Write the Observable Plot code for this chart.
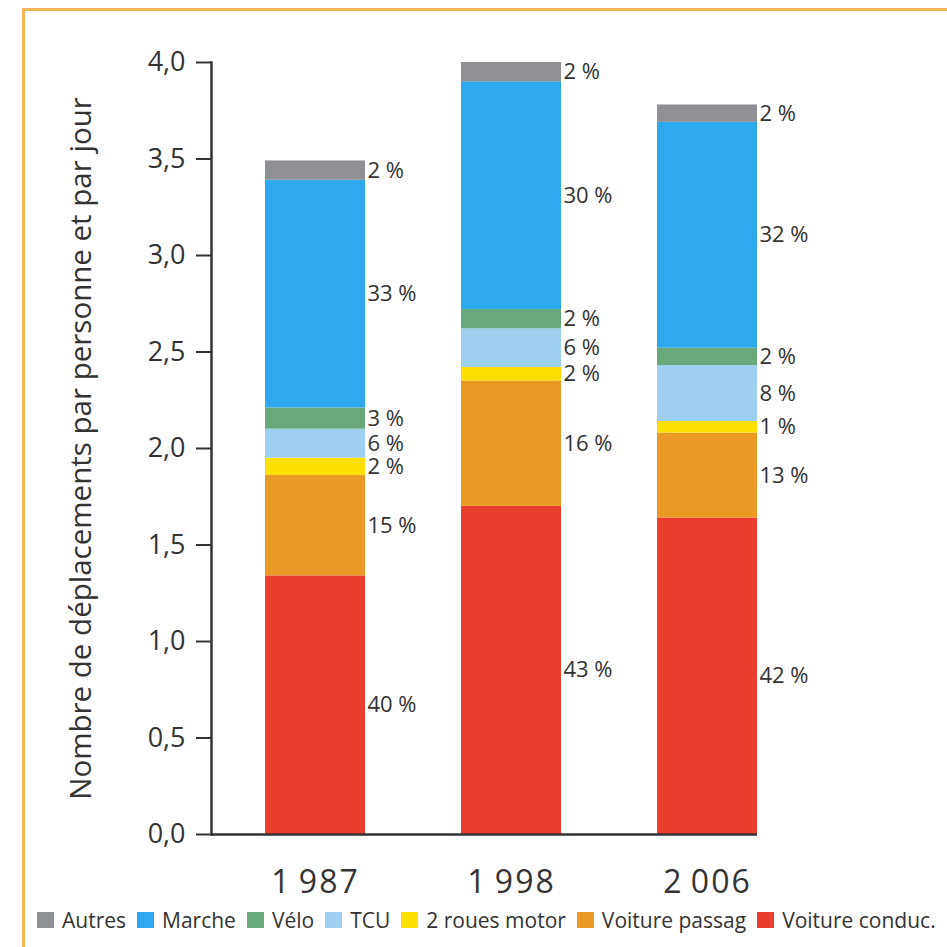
<!DOCTYPE html>
<html><head><meta charset="utf-8">
<script src="https://cdn.jsdelivr.net/npm/d3@7"></script>
<script src="https://cdn.jsdelivr.net/npm/@observablehq/plot@0.6"></script>
<style>
body{margin:0;background:#fff;font-family:"Open Sans",sans-serif;}
#wrap{position:relative;width:947px;height:947px;overflow:hidden;background:#fff;}
#frame{position:absolute;left:22px;top:8px;width:960px;height:960px;border-left:3px solid #f1b55a;border-top:3px solid #f1b55a;box-sizing:border-box;}
#chart{position:absolute;left:0;top:0;}
#legend{position:absolute;left:37px;top:906px;display:flex;align-items:center;font-size:21px;color:#333;white-space:nowrap;}
#legend .item{display:flex;align-items:center;margin-right:11px;}
#legend .sw{width:17px;height:16px;margin-right:8px;}
</style></head>
<body>
<div id="wrap"><div id="frame"></div><div id="chart"></div><div id="legend"></div></div>
<script>
const years = ["1987", "1998", "2006"];
// bottom to top
const modes = ["Voiture conduc.", "Voiture passag", "2 roues motor", "TCU", "Vélo", "Marche", "Autres"];
const colors = ["#ea3e2f", "#e99a24", "#ffdf00", "#9dcfee", "#68a97c", "#2fa9ee", "#8f9094"];
const v1987 = [1.34, 0.52, 0.09, 0.15, 0.11, 1.18, 0.10];
const v1998 = [1.70, 0.65, 0.07, 0.20, 0.10, 1.18, 0.10];
const v2006 = [1.64, 0.44, 0.06, 0.29, 0.09, 1.17, 0.09];
const p1987 = ["40 %", "15 %", "2 %", "6 %", "3 %", "33 %", "2 %"];
const p1998 = ["43 %", "16 %", "2 %", "6 %", "2 %", "30 %", "2 %"];
const p2006 = ["42 %", "13 %", "1 %", "8 %", "2 %", "32 %", "2 %"];
const yTicks = [0, 0.5, 1, 1.5, 2, 2.5, 3, 3.5, 4];
const yLabel = "Nombre de déplacements par personne et par jour";

const vals = [v1987, v1998, v2006];
const pcts = [p1987, p1998, p2006];
const rows = years.flatMap((year, i) => modes.map((mode, j) => ({year, mode, value: vals[i][j], pct: pcts[i][j]})));

const chart = Plot.plot({
  width: 947, height: 947,
  marginLeft: 211, marginRight: 190, marginTop: 62, marginBottom: 113,
  style: {fontFamily: "'Open Sans', sans-serif", background: "transparent", color: "#333"},
  x: {domain: years, paddingInner: 0.49, paddingOuter: 0.131, align: 1, label: null},
  y: {domain: [0, 4]},
  color: {domain: modes, range: colors},
  marks: [
    Plot.barY(rows, Plot.stackY({x: "year", y: "value", fill: "mode", order: modes})),
    Plot.text(rows, Plot.stackY({x: "year", y: "value", z: "mode", text: "pct", order: modes,
      dx: 52, textAnchor: "start", fontSize: 22, fill: "#333", style: "letter-spacing:1.5px;word-spacing:7px"})),
    Plot.axisY({ticks: yTicks, tickSize: 15, tickPadding: 11, strokeWidth: 2,
      tickFormat: d => d.toFixed(1).replace(".", ","), fontSize: 27, label: null}),
    Plot.text([yLabel], {frameAnchor: "left", textAnchor: "middle", rotate: -90, dx: -130, fontSize: 29.5, fill: "#333"}),
    Plot.axisX({tickSize: 0, tickPadding: 36, fontSize: 32,
      tickFormat: d => d[0] + "\u2009" + d.slice(1)}),
    Plot.ruleY([0], {stroke: "#333", strokeWidth: 2.5}),
    Plot.frame({anchor: "left", stroke: "#333", strokeWidth: 2.5})
  ]
});
chart.querySelectorAll("[aria-label='x-axis tick label'] text").forEach(t => t.style.letterSpacing = "2px");
document.getElementById("chart").appendChild(chart);

const legend = document.getElementById("legend");
[...modes].reverse().forEach(m => {
  const it = document.createElement("div");
  it.className = "item";
  const sw = document.createElement("div");
  sw.className = "sw";
  sw.style.background = colors[modes.indexOf(m)];
  const t = document.createElement("span");
  t.textContent = m;
  it.appendChild(sw); it.appendChild(t);
  legend.appendChild(it);
});
</script>
</body></html>
